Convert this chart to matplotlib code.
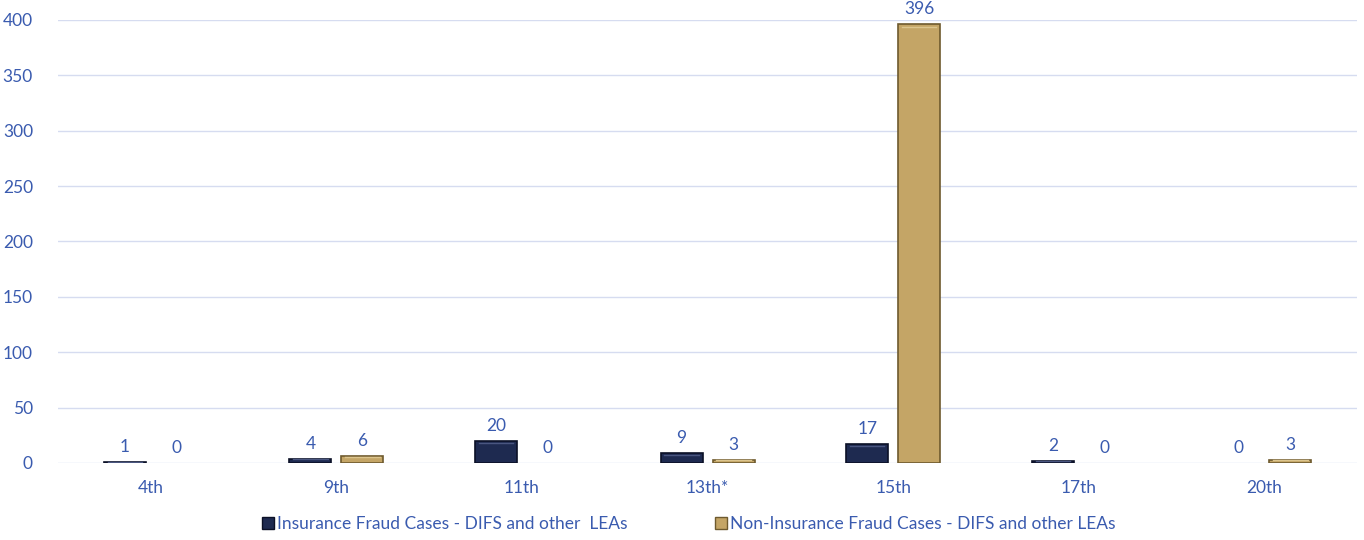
import numpy as np
import matplotlib.pyplot as plt
from matplotlib.patches import Patch

# chart data
districts = ['4th', '9th', '11th', '13th*', '15th', '17th', '20th']
insurance = [1, 4, 20, 9, 17, 2, 0]
non_insurance = [0, 6, 0, 3, 396, 0, 3]
series_names = ['Insurance Fraud Cases - DIFS and other  LEAs',
                'Non-Insurance Fraud Cases - DIFS and other LEAs']

navy = '#1E2A50'
tan = '#C4A566'
text_blue = '#3A5BAF'
grid_col = '#D6DCF0'

plt.rcParams['font.family'] = ['Lato', 'DejaVu Sans']

fig = plt.figure(figsize=(13.64, 5.40), dpi=100)
ax = fig.add_axes([0.0425, 0.1426, 0.9525, 0.8204])

x = np.arange(len(districts))
w = 0.226
off = 0.14

b1 = ax.bar(x - off, insurance, w, color=navy, edgecolor='#0B1026', linewidth=1.2, zorder=3)
b2 = ax.bar(x + off, non_insurance, w, color=tan, edgecolor='#6E5A2E', linewidth=1.2, zorder=3)

# light inner highlight to mimic the bevel; hide zero bars completely
for bars, hl in ((b1, '#4A5680'), (b2, '#DCC58E')):
    for r in bars:
        h = r.get_height()
        if h <= 0:
            r.set_linewidth(0)
            continue
        ax.plot([r.get_x() + 0.02, r.get_x() + r.get_width() - 0.02],
                [h - min(h * 0.15, 2), h - min(h * 0.15, 2)],
                color=hl, lw=1, zorder=4)

for bars, vals in ((b1, insurance), (b2, non_insurance)):
    for r, v in zip(bars, vals):
        ax.annotate(str(v), (r.get_x() + r.get_width() / 2, v),
                    xytext=(0, 5), textcoords='offset points',
                    ha='center', va='bottom', fontsize=12.5, color=text_blue,
                    annotation_clip=False)

ax.set_xlim(-0.5, len(districts) - 0.5)
ax.set_ylim(0, 400)
ax.set_yticks(range(0, 401, 50))
ax.set_xticks(x)
ax.set_xticklabels(districts)
ax.tick_params(axis='both', length=0, labelsize=12.5, labelcolor=text_blue)
ax.tick_params(axis='x', pad=12)
ax.tick_params(axis='y', pad=18)
ax.grid(axis='y', color=grid_col, lw=1, zorder=0)
for s in ax.spines.values():
    s.set_visible(False)

handles = [Patch(facecolor=navy, edgecolor='#0B1026'),
           Patch(facecolor=tan, edgecolor='#6E5A2E')]
fig.legend(handles, series_names, loc='center', bbox_to_anchor=(0.505, 0.03),
           ncol=2, frameon=False, fontsize=12.5, labelcolor=text_blue,
           handlelength=0.7, handleheight=0.7, handletextpad=0.2, columnspacing=5)

fig.savefig('out.png', dpi=100)
